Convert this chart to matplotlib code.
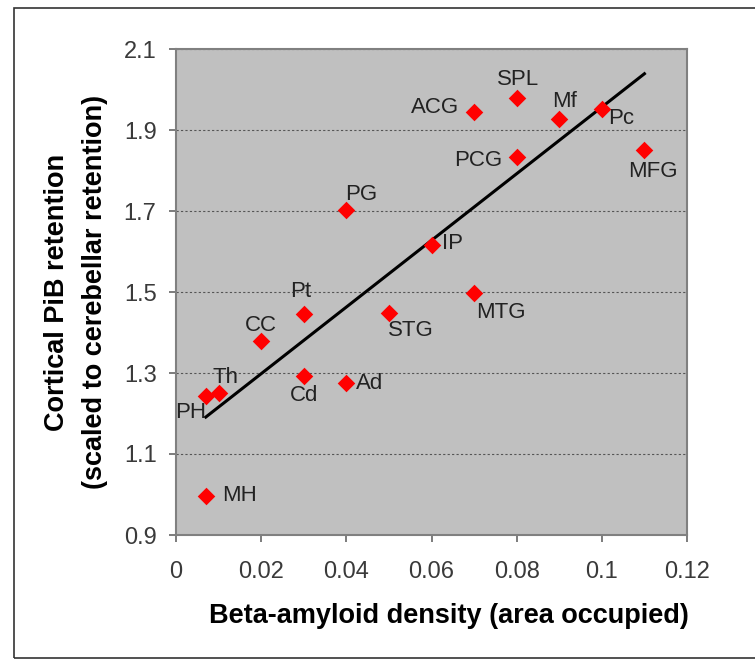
import numpy as np
import matplotlib
matplotlib.use("Agg")
from matplotlib import pyplot as plt
from matplotlib.patches import Rectangle

plt.rcParams['font.family'] = ['Liberation Sans', 'DejaVu Sans']

# 区域名称
regions = ["SPL", "ACG", "Mf", "Pc", "PCG", "MFG", "PG", "IP", "MTG",
           "STG", "Pt", "CC", "Cd", "Ad", "Th", "PH", "MH"]
# 斑块密度
density = [0.08, 0.07, 0.09, 0.10, 0.08, 0.11, 0.04, 0.06, 0.07,
           0.05, 0.03, 0.02, 0.03, 0.04, 0.01, 0.007, 0.007]
# PiB 保留
retention = [1.978, 1.944, 1.926, 1.953, 1.833, 1.850, 1.703, 1.616, 1.498,
             1.447, 1.445, 1.378, 1.293, 1.275, 1.250, 1.243, 0.997]

x_ticks = [0, 0.02, 0.04, 0.06, 0.08, 0.1, 0.12]
x_tick_labels = ["0", "0.02", "0.04", "0.06", "0.08", "0.1", "0.12"]
y_ticks = [0.9, 1.1, 1.3, 1.5, 1.7, 1.9, 2.1]

# 标签偏移 (像素) 和对齐
label_pos = {
    "SPL": (1, 19, "center"), "ACG": (-15, 5, "right"), "Mf": (5, 18, "center"),
    "Pc": (6, -10, "left"), "PCG": (-14, -3, "right"), "MFG": (8, -21, "center"),
    "PG": (-1, 15, "left"), "IP": (11, 2, "left"), "MTG": (2, -20, "left"),
    "STG": (-1, -17, "left"), "Pt": (-3, 23, "center"), "CC": (0, 16, "center"),
    "Cd": (0, -20, "center"), "Ad": (10, 0, "left"), "Th": (7, 16, "center"),
    "PH": (0, -16, "right"), "MH": (16, 0, "left"),
}

fig = plt.figure(figsize=(7.55, 6.6), dpi=100)
ax = fig.add_axes([176/755, 1-535/660, (687-176)/755, (535-49)/660])
ax.set_facecolor("#c0c0c0")

# 回归线
k, b = np.polyfit(density, retention, 1)
xs = np.array([min(density), max(density)])
ax.plot(xs, k*xs + b, color="black", lw=2.2, zorder=3)

ax.scatter(density, retention, marker="D", s=80, color="#ff0000", zorder=4, lw=0)

for name, xv, yv in zip(regions, density, retention):
    dx, dy, ha = label_pos[name]
    ax.annotate(name, (xv, yv), xytext=(dx, dy), textcoords="offset pixels",
                ha=ha, va="center", fontsize=16, color="#222222", zorder=5,
                annotation_clip=False)

ax.set_xlim(0, 0.12)
ax.set_ylim(0.9, 2.1)
ax.set_xticks(x_ticks)
ax.set_xticklabels(x_tick_labels)
ax.set_yticks(y_ticks)
ax.set_yticklabels(["%.1f" % v for v in y_ticks])
ax.yaxis.grid(True, linestyle=(0, (2, 2)), color="#555555", lw=0.8)
ax.set_axisbelow(True)
ax.tick_params(labelsize=17, labelcolor="#3a3a3a", color="#666666", length=5, width=1.2)
ax.tick_params(axis="x", pad=14)
ax.tick_params(axis="y", pad=9)
for s in ax.spines.values():
    s.set_color("#808080")
    s.set_linewidth(1.5)

fig.text(449/755, 1-616/660, "Beta-amyloid density (area occupied)", ha="center", va="center",
         fontsize=19.5, fontweight="bold")
fig.text(57/755, 1-292/660, "Cortical PiB retention", rotation=90, ha="center", va="center",
         fontsize=19.5, fontweight="bold")
fig.text(95/755, 1-292/660, "(scaled to cerebellar retention)", rotation=90, ha="center", va="center",
         fontsize=19.5, fontweight="bold")

# 外框
fig.patches.append(Rectangle((14/755, 1-658/660), 1.0, (658-8)/660, transform=fig.transFigure,
                             fill=False, edgecolor="#333333", lw=1.2))

fig.savefig("out.png", dpi=100)
